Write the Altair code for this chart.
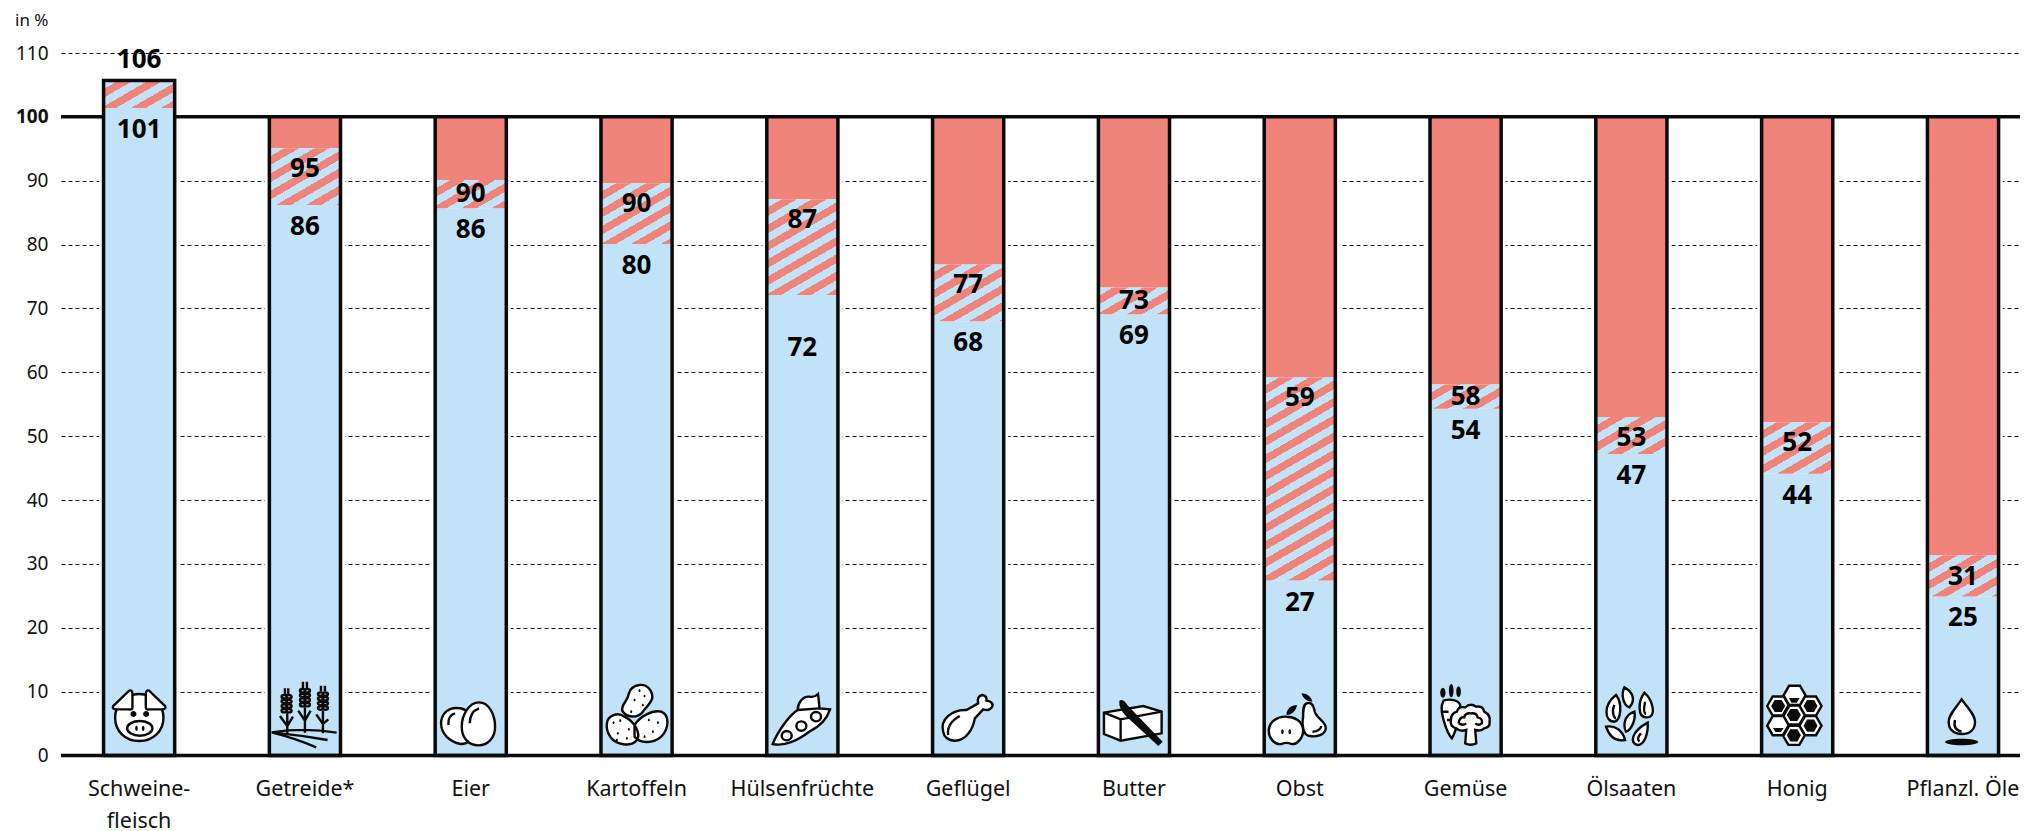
import re
import altair as alt
import pandas as pd

cats = ["Schweine-\nfleisch", "Getreide*", "Eier", "Kartoffeln", "Hülsenfrüchte", "Geflügel",
        "Butter", "Obst", "Gemüse", "Ölsaaten", "Honig", "Pflanzl. Öle"]
lo_val = [101.4, 86.2, 85.7, 80.1, 72.1, 68.0, 69.1, 27.4, 54.3, 47.2, 44.1, 24.9]
hi_val = [105.7, 95.1, 90.1, 89.6, 87.1, 76.9, 73.3, 59.2, 58.1, 53.0, 52.2, 31.3]
lo_txt = [101, 86, 86, 80, 72, 68, 69, 27, 54, 47, 44, 25]
hi_txt = [106, 95, 90, 90, 87, 77, 73, 59, 58, 53, 52, 31]
y_ticks = [0, 10, 20, 30, 40, 50, 60, 70, 80, 90, 100, 110]

BLUE, RED, INK = "#C2E2F7", "#F0837A", "#0a0a0a"
FONT = "Noto Sans"
W, H, YMAX = 1959, 702.5, 110
PX = H / YMAX
BW = 71.1


def ell(cx, cy, rx, ry):
    k = 0.5523
    return (f"M{cx-rx} {cy} C{cx-rx} {cy-k*ry} {cx-k*rx} {cy-ry} {cx} {cy-ry} "
            f"C{cx+k*rx} {cy-ry} {cx+rx} {cy-k*ry} {cx+rx} {cy} "
            f"C{cx+rx} {cy+k*ry} {cx+k*rx} {cy+ry} {cx} {cy+ry} "
            f"C{cx-k*rx} {cy+ry} {cx-rx} {cy+k*ry} {cx-rx} {cy} Z ")


def hexa(cx, cy, r):
    h = r * 0.866
    return (f"M{cx-r} {cy} L{cx-r/2} {cy-h} L{cx+r/2} {cy-h} L{cx+r} {cy} "
            f"L{cx+r/2} {cy+h} L{cx-r/2} {cy+h} Z ")


def norm(path, ox, oy):
    i = 0

    def rep(m):
        nonlocal i
        v = float(m.group(0)) - (ox if i % 2 == 0 else oy)
        i += 1
        return f"{v/90:.4f}"
    return re.sub(r"-?\d+\.?\d*", rep, path)


def grains(x, ys):
    s = ""
    for y in ys:
        s += ell(x - 7, y, 8, 5) + ell(x + 7, y, 8, 5)
    return s


ICONS = {
    0: (120, 135, dict(
        back="M120 72 C165 72 193 105 193 143 C193 183 162 213 120 213 C78 213 48 183 48 143 C48 105 75 72 120 72 Z",
        front="M42 108 L90 62 Q98 58 100 70 L100 112 Q100 120 90 118 L52 118 Q38 118 42 108 Z "
              "M198 108 L150 62 Q142 58 140 70 L140 112 Q140 120 150 118 L188 118 Q202 118 198 108 Z " + ell(122, 175, 38, 22),
        solid=ell(103, 132, 9, 9) + ell(141, 132, 9, 9) + ell(112, 175, 4, 8) + ell(132, 175, 4, 8))),
    1: (618, 135, dict(
        front=grains(563, [122, 108, 94, 80]) + grains(618, [104, 90, 76, 62]) + grains(672, [114, 100, 86, 72]),
        line="M518 187 Q620 172 713 188 M518 187 Q600 195 686 210 M518 187 Q590 205 652 232 "
             "M565 190 L565 130 M543 138 L565 168 L582 140 M618 188 L618 112 M598 122 L618 152 L635 122 "
             "M672 190 L672 122 M652 133 L672 162 L688 148 M558 55 L558 72 M568 55 L568 72 M612 35 L612 54 "
             "M624 35 L624 54 M666 47 L666 64 M678 47 L678 64")),
    2: (1115, 135, dict(
        back="M1026 160 C1026 130 1050 112 1075 114 C1100 114 1125 135 1130 170 C1130 200 1110 222 1085 222 C1050 215 1026 190 1026 160 Z",
        front="M1140 97 C1170 97 1188 135 1188 170 C1188 205 1165 226 1138 226 C1110 226 1088 205 1088 170 C1088 135 1110 97 1140 97 Z",
        line="M1048 165 Q1046 135 1068 130 M1112 160 Q1112 125 1140 115")),
    3: (141, 135, dict(
        back="M135 165 C150 140 190 118 215 125 C240 135 240 175 215 200 C190 222 150 220 135 200 Z "
             "M52 160 C55 135 85 125 105 140 C135 155 155 190 142 210 C125 232 80 225 62 200 C52 185 50 175 52 160 Z",
        front="M150 45 C175 42 190 65 188 85 C185 100 170 110 160 125 C145 145 110 145 98 122 C95 100 115 95 118 70 C122 55 135 47 150 45 Z",
        solid="".join(ell(x, y, 3, 4) for x, y in [(150, 62), (165, 78), (135, 90), (160, 105), (125, 125),
                                                   (72, 158), (92, 152), (118, 178), (85, 190), (112, 205),
                                                   (178, 150), (205, 158), (190, 185), (165, 200), (82, 210)]))),
    4: (639, 135, dict(
        back="M550 222 C565 185 600 135 625 120 C625 100 640 78 660 80 C670 82 680 78 686 72 C688 90 690 105 690 115 L722 118 C712 150 690 170 660 185 C625 210 590 230 550 222 Z",
        front=ell(592, 197, 15, 14) + ell(636, 168, 15, 14) + ell(680, 140, 15, 14),
        line="M625 120 Q650 118 690 115")),
    5: (1135, 135, dict(
        back="M1060 185 C1050 150 1085 118 1130 120 L1165 100 Q1160 78 1178 75 Q1192 78 1190 92 Q1210 95 1208 108 Q1200 125 1180 118 L1155 145 C1150 175 1130 212 1095 212 C1075 212 1062 200 1060 185 Z",
        line="M1075 195 Q1070 160 1110 138")),
    6: (132, 135, dict(
        back="M42 128 L160 108 L215 125 L215 190 L92 212 L42 192 Z",
        line="M42 128 L92 148 L215 125 M92 148 L92 212",
        solid="M88 92 Q100 85 112 105 L218 215 L205 228 L110 140 Q85 115 88 92 Z")),
    7: (630, 135, dict(
        back="M650 100 C668 95 672 110 675 125 C680 145 710 155 708 175 C706 195 680 202 660 198 C640 196 635 165 640 140 C640 120 640 105 650 100 Z",
        front="M590 140 C610 140 640 150 640 182 C640 205 620 225 605 222 Q590 215 575 222 C555 225 537 205 537 182 C537 155 565 138 590 140 Z",
        line="M668 185 Q690 185 695 168",
        solid="M590 135 C590 115 605 105 622 105 C618 125 605 135 590 135 Z M635 70 C650 70 665 80 668 95 C650 95 640 85 635 70 Z "
              + ell(578, 185, 4, 7) + ell(600, 185, 4, 7))),
    8: (1126, 135, dict(
        back="M1060 92 C1080 85 1105 90 1110 105 C1105 150 1100 180 1085 205 C1070 190 1050 130 1055 105 Z",
        front="M1100 125 Q1105 108 1125 112 Q1140 98 1158 110 Q1178 106 1182 125 Q1202 135 1198 155 Q1200 172 1182 175 Q1170 185 1155 180 "
              "L1158 220 Q1140 228 1125 220 L1128 180 Q1110 186 1098 175 Q1078 170 1082 150 Q1082 130 1100 125 Z",
        line="M1105 160 Q1108 140 1122 142 Q1125 128 1142 130 Q1160 128 1162 142 Q1178 145 1175 160 Q1165 168 1155 160 "
             "M1128 160 Q1118 168 1105 160 M1055 125 L1075 125 M1070 150 L1084 150",
        solid=ell(1083, 62, 7, 20) + ell(1058, 68, 8, 15) + ell(1105, 65, 7, 16))),
    9: (391, 255, dict(
        back="M345 195 C365 220 360 270 340 275 C310 275 305 225 345 195 Z M370 172 C395 185 405 210 385 232 C365 225 360 190 370 172 Z "
             "M430 188 C455 210 470 265 435 262 C410 262 410 215 430 188 Z M400 245 C405 270 390 300 375 305 C365 285 370 255 400 245 Z "
             "M315 290 C340 285 365 300 372 330 C345 335 325 320 315 290 Z M440 278 C442 310 430 345 410 345 C385 340 390 305 440 278 Z",
        line="M340 225 C330 245 340 265 345 265 M432 215 Q425 250 435 252 M420 310 Q405 325 415 335")),
    10: (885, 255, dict(
        back="".join(hexa(x, y, 33) for x, y in [(877, 196), (925, 228), (925, 287), (875, 316), (828, 287), (828, 228), (875, 255)]),
        solid="".join(hexa(x, y, 21) for x, y in [(875, 255), (925, 228), (828, 228), (875, 316), (925, 287)])
              + "M860 204 L892 204 L884 218 L868 218 Z M812 294 L844 294 L836 306 L820 306 Z")),
    11: (1376, 255, dict(
        back="M1372 208 C1395 240 1412 255 1412 275 C1412 300 1395 312 1372 312 C1350 312 1333 300 1333 275 C1333 255 1350 240 1372 208 Z",
        line="M1352 270 Q1345 300 1372 305",
        solid=ell(1372, 336, 50, 10))),
}
ICON_Y = 6.34

rows = []
for i, c in enumerate(cats):
    lo, hi = lo_val[i], hi_val[i]
    h_px = (hi - lo) * PX
    hi_y = hi + 3.2 if hi > 100 else hi - (21 if h_px > 30 else h_px / 2) / PX
    lo_y = lo - (53 if i == 4 else 22) / PX
    rows.append(dict(cat=c, lo=lo, hi=hi, top=max(hi, 100), hundred=100, zero=0, lo_y=lo_y, hi_y=hi_y,
                     lo_t=str(lo_txt[i]), hi_t=str(hi_txt[i]), icon_y=ICON_Y))
df = pd.DataFrame(rows)

scale_x = alt.Scale(domain=cats, paddingInner=0.571, paddingOuter=0.193, align=0.665, round=False)
scale_y = alt.Scale(domain=[0, YMAX], nice=False)
AX_X = alt.Axis(
    labelExpr="split(datum.label,'\\n')", labelAngle=0, ticks=False, domain=False, grid=False,
    labelFont=FONT, labelFontSize=21.5, labelColor="#111", labelPadding=23, labelLineHeight=32,
    labelBaseline="top", labelOverlap=False, labelBound=False, labelFlush=False)
AX_Y = alt.Axis(
    values=y_ticks, ticks=False, domain=False, grid=True, gridColor="#111", gridWidth=1, gridDash=[4, 3],
    labelFont=FONT, labelFontSize=19, labelColor="#111", labelPadding=13,
    labelFontWeight=alt.expr("datum.value==100?'bold':'normal'"),
    titleFont=FONT, titleFontSize=17, titleFontWeight="normal", titleColor="#111", titleAngle=0,
    titleAlign="right", titleBaseline="middle", titleX=-13, titleY=-33)
x = alt.X("cat:N", scale=scale_x, title=None, axis=AX_X)


def Y(f):
    return alt.Y(f, scale=scale_y, title="in %", axis=AX_Y)


base = alt.Chart(df)

halo = base.mark_bar(fill="white", stroke="white", strokeWidth=9).encode(x=x, y=Y("zero:Q"), y2="top:Q")
line100 = alt.Chart(pd.DataFrame({"v": [100]})).mark_rule(color=INK, strokeWidth=3.5).encode(y=Y("v:Q"))
line0 = alt.Chart(pd.DataFrame({"v": [0]})).mark_rule(color=INK, strokeWidth=3.5).encode(y=Y("v:Q"))
blue = base.mark_bar(fill=BLUE).encode(x=x, y=Y("zero:Q"), y2="lo:Q")
red = base.transform_filter("datum.hi<100").mark_bar(fill=RED).encode(x=x, y=Y("hi:Q"), y2="hundred:Q")


def stripes(lo, hi):
    th_s, th_c, P = 0.5, 0.866, 15.0
    bh = (hi - lo) * PX
    A, B = BW * th_s / P, bh * th_c / P
    N = A + B
    d = A * A + B * B
    stops = []
    k = 0
    while k / N < 1:
        a, b, c = k / N, min((k + 0.5) / N, 1), min((k + 1) / N, 1)
        stops += [alt.GradientStop(color=BLUE, offset=a), alt.GradientStop(color=BLUE, offset=b),
                  alt.GradientStop(color=RED, offset=b), alt.GradientStop(color=RED, offset=c)]
        k += 1
    return alt.LinearGradient(gradient="linear", stops=stops, x1=0, y1=0, x2=A * N / d, y2=B * N / d)


hatches = []
for i, c in enumerate(cats):
    hatches.append(alt.Chart(df[df.cat == c]).mark_bar(fill=stripes(lo_val[i], hi_val[i])).encode(
        x=x, y=Y("lo:Q"), y2="hi:Q"))

outline = base.mark_bar(fillOpacity=0, fill="white", stroke=INK, strokeWidth=3.5).encode(
    x=x, y=Y("zero:Q"), y2="top:Q")

txt = dict(font=FONT, fontSize=26, fontWeight="bold", color="#000", baseline="middle", align="center")
lo_text = base.mark_text(**txt).encode(x=x, y=Y("lo_y:Q"), text="lo_t:N")
hi_text = base.mark_text(**txt).encode(x=x, y=Y("hi_y:Q"), text="hi_t:N")


def icon_layer(key, **mk):
    r = []
    for i, (ox, oy, parts) in ICONS.items():
        if key in parts:
            r.append(dict(cat=cats[i], p=norm(parts[key], ox, oy), icon_y=ICON_Y))
    return alt.Chart(pd.DataFrame(r)).mark_point(size=3600, opacity=1, **mk).encode(
        x=x, y=Y("icon_y:Q"), shape=alt.Shape("p:N", scale=None, legend=None))


ic = [
    icon_layer("back", filled=True, fill="white", stroke=INK, strokeWidth=2.4),
    icon_layer("front", filled=True, fill="white", stroke=INK, strokeWidth=2.4),
    icon_layer("line", filled=False, fill="transparent", stroke=INK, strokeWidth=2.4),
    icon_layer("solid", filled=True, fill=INK, strokeWidth=0),
]

chart = alt.layer(halo, line100, blue, red, *hatches, outline, line0, lo_text, hi_text, *ic).properties(
    width=W, height=H,
    autosize=alt.AutoSizeParams(type="none"),
    padding={"left": 53, "top": 45, "right": 0, "bottom": 78},
).configure_view(stroke=None)

chart.save("out.html", embed_options={"renderer": "svg", "actions": False})
